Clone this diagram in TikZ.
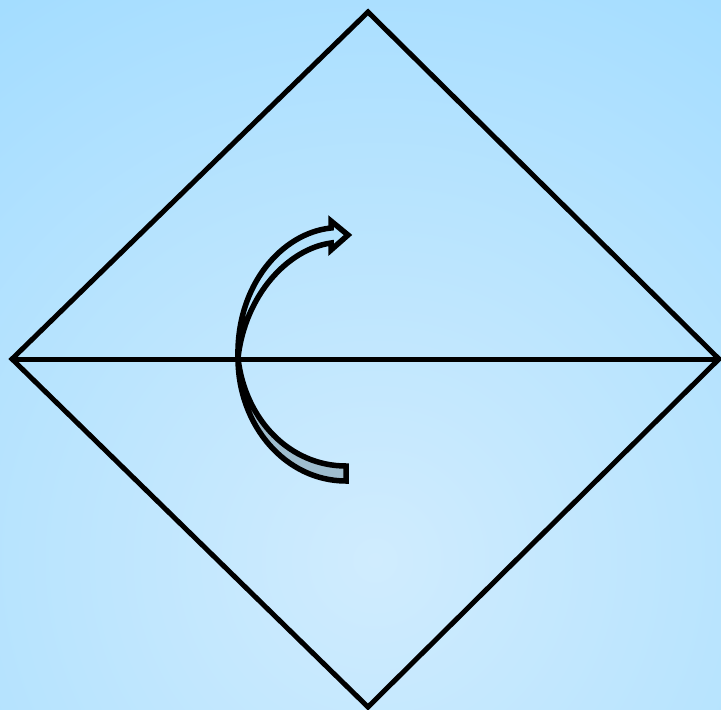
\documentclass[tikz,border=0pt]{standalone}
\begin{document}
\begin{tikzpicture}[x=1pt,y=-1pt,
  edge/.style={line width=5pt,line join=miter,black},
  band/.style={line width=5.5pt,line join=miter,black}]
\definecolor{bgout}{HTML}{96D8FF}
\definecolor{bgin}{HTML}{D0ECFE}
\definecolor{bandgray}{HTML}{9FBDCE}
\definecolor{bandlight}{HTML}{B3E2FD}
\useasboundingbox (0,0) rectangle (721,710);
\begin{scope}
  \clip (0,0) rectangle (721,710);
  \shade[inner color=bgin,outer color=bgout] (375,560) circle (880);
\end{scope}
% diamond vertices
\coordinate (T) at (368,12);
\coordinate (L) at (12,359);
\coordinate (R) at (719,359);
\coordinate (B) at (368,707);
\draw[edge] (T) -- (R) -- (B) -- (L) -- cycle;
\draw[edge] (L) -- (R);
% lower band of the arrow
\coordinate (lo0) at (238,358);
\coordinate (lo1) at (346,481);
\coordinate (lo2) at (346,466);
\draw[band,fill=bandgray]
  (lo0) .. controls (238,426) and (286,481) .. (lo1)
  -- (lo2) .. controls (290,466) and (245,420) .. (lo0) -- cycle;
% upper band with arrow head
\coordinate (up1) at (331,228);
\coordinate (h1) at (331,221);
\coordinate (tip) at (348,235);
\coordinate (h2) at (331,250);
\coordinate (up2) at (331,243);
\draw[band,fill=bandlight]
  (lo0) .. controls (236,285) and (282,233) .. (up1)
  -- (h1) -- (tip) -- (h2) -- (up2)
  .. controls (288,249) and (245,295) .. (lo0) -- cycle;
\end{tikzpicture}
\end{document}
